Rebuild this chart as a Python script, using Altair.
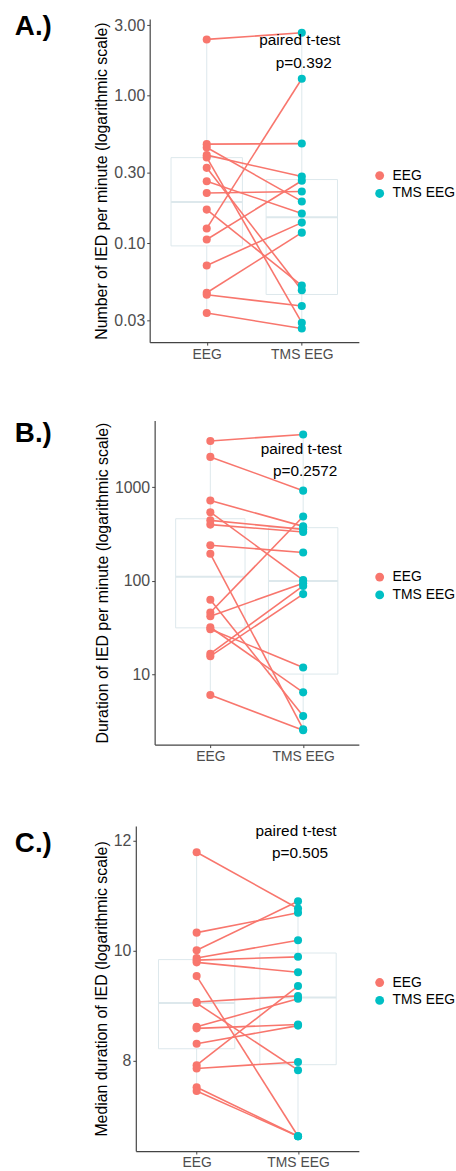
import altair as alt
import pandas as pd

groups = ["EEG", "TMS EEG"]
colors = ["#F8766D", "#00BFC4"]
PALE = "#dde8ec"
FONT = "Liberation Sans"

# ---------------- Panel A: number of IED per minute ----------------
a_eeg = [2.40, 0.469, 0.445, 0.395, 0.381, 0.324, 0.263, 0.219, 0.169, 0.126, 0.106, 0.0708, 0.0462, 0.0448, 0.0337]
a_tms = [2.66, 0.473, 0.192, 0.283, 0.029, 0.0481, 0.159, 0.224, 0.0517, 1.30, 0.265, 0.138, 0.118, 0.0376, 0.0265]
a_lo = [0.0337, 0.0265]
a_q1 = [0.096, 0.045]
a_med = [0.19, 0.15]
a_q3 = [0.38, 0.27]
a_hi = [2.40, 2.66]
a_ticks = [0.03, 0.1, 0.3, 1, 3]
a_domain = [0.0214, 3.30]
a_ann = [2.39, 1.67]

# ---------------- Panel B: duration of IED per minute ----------------
b_eeg = [3130, 2117, 723, 543, 444, 400, 241, 195, 63, 46, 42, 32, 30.5, 16.7, 15.7, 6.03]
b_tms = [3680, 923, 383, 102, 356, 334, 201, 2.60, 3.59, 489, 94.5, 6.44, 11.9, 88.5, 72.3, 2.53]
b_lo = [6.03, 2.53]
b_q1 = [31.5, 10.1]
b_med = [111, 100]
b_q3 = [462, 371]
b_hi = [3130, 3680]
b_ticks = [10, 100, 1000]
b_domain = [1.78, 5190]
b_ann = [2594, 1503]

# ---------------- Panel C: median duration of IED ----------------
c_eeg = [11.79, 10.33, 10.01, 9.87, 9.83, 9.79, 9.54, 9.07, 9.05, 8.62, 8.59, 8.31, 7.92, 7.86, 7.52, 7.45]
c_tms = [10.77, 10.69, 10.90, 10.19, 9.89, 9.61, 6.63, 9.18, 7.83, 9.13, 8.66, 8.64, 9.36, 7.98, 6.63, 6.63]
c_lo = [7.45, 6.63]
c_q1 = [8.22, 7.93]
c_med = [9.05, 9.15]
c_q3 = [9.84, 9.96]
c_hi = [11.79, 10.90]
c_ticks = [8, 10, 12]
c_domain = [6.36, 12.27]
c_ann = [12.18, 11.78]


def panel(eeg, tms, lo, q1, med, q3, hi, ticks, domain, ann, pval, ytitle,
          label, label_y, log, fmt, height, xrange, yoffset, box_w):
    pts = pd.DataFrame({
        "id": list(range(len(eeg))) * 2,
        "group": ["EEG"] * len(eeg) + ["TMS EEG"] * len(tms),
        "value": eeg + tms,
    })
    box = pd.DataFrame({"group": groups, "lo": lo, "q1": q1, "med": med, "q3": q3, "hi": hi})
    ann_df = pd.DataFrame({"group": ["TMS EEG", "TMS EEG"], "y": ann, "t": ["paired t-test", pval]})

    xs = alt.Scale(type="point", padding=0.6, domain=groups, range=xrange)
    X = alt.X("group:N", scale=xs, sort=groups,
              axis=alt.Axis(title=None, labelAngle=0, labelFontSize=14, tickSize=3,
                            labelPadding=2, labelColor="#4d4d4d"))
    if log:
        ys = alt.Scale(type="log", domain=domain, nice=False, zero=False)
    else:
        ys = alt.Scale(type="linear", domain=domain, nice=False, zero=False)
    yax = alt.Axis(values=ticks, format=fmt, title=ytitle, grid=False, labelFontSize=16,
                   titleFontSize=16, titleFontWeight="normal", titleColor="black",
                   labelColor="#4d4d4d", tickSize=3, labelPadding=2, titlePadding=4,
                   offset=yoffset)

    def Y(f):
        return alt.Y(f + ":Q", scale=ys, axis=yax)

    whisk = alt.Chart(box).mark_rule(color=PALE, strokeWidth=1).encode(x=X, y=Y("lo"), y2="hi:Q")
    rect = alt.Chart(box).mark_bar(size=box_w, fill="white", stroke=PALE, strokeWidth=1).encode(
        x=X, y=Y("q1"), y2="q3:Q")
    mid = alt.Chart(box).mark_tick(size=box_w, thickness=2, color=PALE, opacity=1).encode(x=X, y=Y("med"))
    lines = alt.Chart(pts).mark_line(color="#F8766D", strokeWidth=1.6).encode(
        x=X, y=Y("value"), detail="id:N")
    dots = alt.Chart(pts).mark_circle(size=66, opacity=1).encode(
        x=X, y=Y("value"),
        color=alt.Color("group:N", scale=alt.Scale(domain=groups, range=colors),
                        legend=alt.Legend(title=None, orient="none", legendX=225, legendY=151,
                                          symbolType="circle", symbolSize=80, labelFontSize=14,
                                          rowPadding=4, padding=0, labelOffset=6,
                                          symbolStrokeWidth=0, symbolOpacity=1,
                                          labelColor="black")))
    t1 = alt.Chart(ann_df.iloc[[0]]).mark_text(fontSize=15.5, dx=-2, color="black").encode(
        x=X, y=Y("y"), text="t:N")
    t2 = alt.Chart(ann_df.iloc[[1]]).mark_text(fontSize=15.5, dx=2, color="black").encode(
        x=X, y=Y("y"), text="t:N")
    lab = alt.Chart(pd.DataFrame({"t": [label]})).mark_text(
        align="left", baseline="alphabetic", fontSize=28, fontWeight="bold", color="black",
        x=-136, y=label_y).encode(text="t:N")
    return alt.layer(whisk, rect, mid, lines, dots, t1, t2, lab).properties(width=211, height=height)


pA = panel(a_eeg, a_tms, a_lo, a_q1, a_med, a_q3, a_hi, a_ticks, a_domain, a_ann, "p=0.392",
           "Number of IED per minute (logarithmic scale)", "A.)", 16, True, ".2f", 326,
           [0, 211], 0, 72)
pB = panel(b_eeg, b_tms, b_lo, b_q1, b_med, b_q3, b_hi, b_ticks, b_domain, b_ann, "p=0.2572",
           "Duration of IED per minute (logarithmic scale)", "B.)", 22, True, "d", 327,
           [5, 211], -5, 70)
pC = panel(c_eeg, c_tms, c_lo, c_q1, c_med, c_q3, c_hi, c_ticks, c_domain, c_ann, "p=0.505",
           "Median duration of IED (logarithmic scale)", "C.)", 26, False, "d", 328,
           [-14, 211], 14, 77)

chart = alt.vconcat(pA, pB, pC, spacing=60).resolve_scale(
    x="independent", y="independent", color="independent"
).resolve_legend(color="independent").properties(
    padding={"left": 15, "top": 8, "right": 0, "bottom": 0}
).configure(font=FONT).configure_view(stroke=None).configure_axis(
    domainColor="#444444", tickColor="#444444", domainWidth=1.2
)

chart.save("out.html", embed_options={"renderer": "svg", "actions": False})
